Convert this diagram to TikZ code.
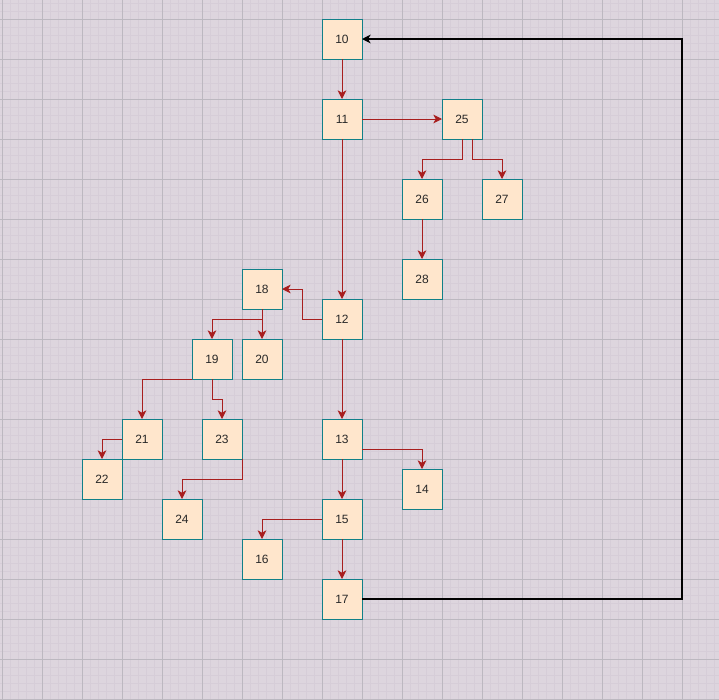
\documentclass[tikz,border=0pt]{standalone}
\usepackage{fontspec}
\setmainfont{Liberation Sans}
\usepackage{tikz}
\usetikzlibrary{arrows.meta, positioning}
\definecolor{sheetBg}{RGB}{221, 213, 222}
\definecolor{minorGrid}{RGB}{214, 205, 216}
\definecolor{majorGrid}{RGB}{188, 184, 192}
\definecolor{boxFill}{RGB}{255, 230, 204}
\definecolor{boxTeal}{RGB}{16, 128, 136}
\definecolor{linkRed}{RGB}{168, 30, 30}
\definecolor{labelInk}{RGB}{40, 40, 40}

\begin{document}
\begin{tikzpicture}[x=0.75pt, y=-0.75pt,
  box/.style={rectangle, draw=boxTeal, fill=boxFill, line width=0.75pt,
              minimum width=30pt, minimum height=30pt, inner sep=0pt,
              outer sep=0pt, text=labelInk, font=\fontsize{9}{11}\selectfont},
  link/.style={-{Stealth[length=6.5pt, width=6.5pt, inset=1.8pt]}, draw=linkRed,
               line width=0.75pt},
  backlink/.style={-{Stealth[length=6.5pt, width=6.5pt, inset=2pt]}, draw=black,
                   line width=0.85pt},
  minor/.style={draw=minorGrid, line width=0.75pt},
  major/.style={draw=majorGrid, line width=0.75pt},
]
  \useasboundingbox (0,0) rectangle (719,700);
  \fill[sheetBg] (0,0) rectangle (719,700);
  \foreach \x in {2,10,...,714} \draw[minor] (\x,0) -- (\x,700);
  \foreach \y in {3,11,...,699} \draw[minor] (0,\y) -- (719,\y);
  \foreach \x in {2,42,...,714} \draw[major] (\x,0) -- (\x,700);
  \foreach \y in {19,59,...,699} \draw[major] (0,\y) -- (719,\y);

  \node[box] (n10) at (342,39) {10};
  \node[box] (n11) at (342,119) {11};
  \node[box] (n25) at (462,119) {25};
  \node[box] (n26) at (422,199) {26};
  \node[box] (n27) at (502,199) {27};
  \node[box] (n28) at (422,279) {28};
  \node[box] (n18) at (262,289) {18};
  \node[box] (n12) at (342,319) {12};
  \node[box] (n19) at (212,359) {19};
  \node[box] (n20) at (262,359) {20};
  \node[box] (n21) at (142,439) {21};
  \node[box] (n23) at (222,439) {23};
  \node[box] (n13) at (342,439) {13};
  \node[box] (n22) at (102,479) {22};
  \node[box] (n14) at (422,489) {14};
  \node[box] (n24) at (182,519) {24};
  \node[box] (n15) at (342,519) {15};
  \node[box] (n16) at (262,559) {16};
  \node[box] (n17) at (342,599) {17};
  \coordinate (turn) at (682,599);

  \draw[link] (n10) -- (n11);
  \draw[link] (n11) -- (n25);
  \draw[link] (n25.south) -- ++(0,20) -| (n26);
  \draw[link] ([xshift=7.5pt]n25.south) -- ++(0,20) -| (n27);
  \draw[link] (n26) -- (n28);
  \draw[link] (n11) -- (n12);
  \draw[link] (n12.west) -- ++(-20,0) |- (n18);
  \draw[link] (n18.south) -- ++(0,10) -| (n19);
  \draw[link] (n18) -- (n20);
  \draw[link] (n19.south west) -| (n21);
  \draw[link] (n19.south) -- ++(0,20) -| (n23);
  \draw[link] (n21.west) -| (n22);
  \draw[link] (n23.south east) -- ++(0,20) -| (n24);
  \draw[link] (n12) -- (n13);
  \draw[link] ([yshift=-7.5pt]n13.east) -| (n14);
  \draw[link] (n13) -- (n15);
  \draw[link] (n15.west) -| (n16);
  \draw[link] (n15) -- (n17);
  \draw[backlink] (n17.east) -- (turn) |- (n10.east);
\end{tikzpicture}
\end{document}
